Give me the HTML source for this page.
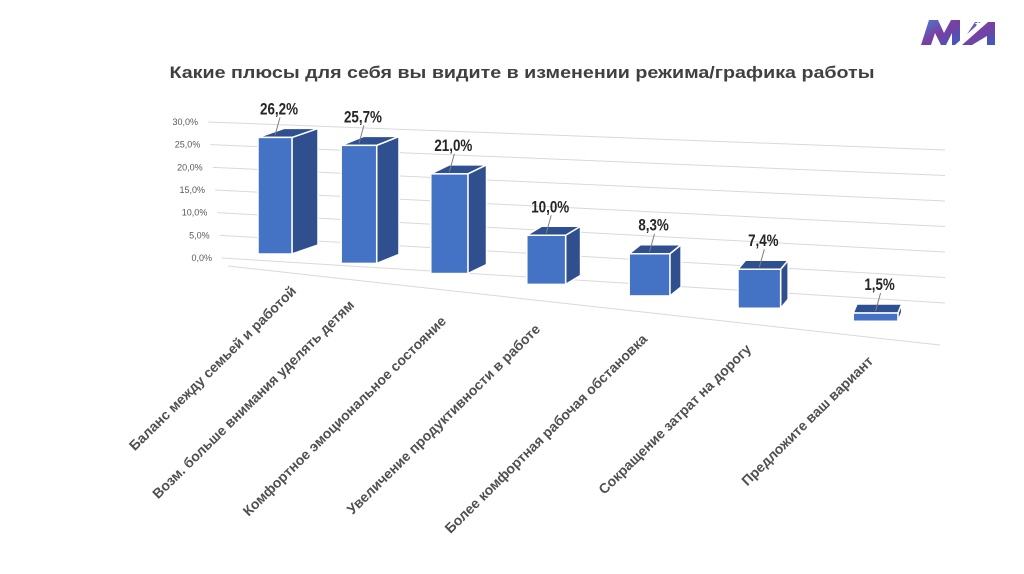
<!DOCTYPE html>
<html><head><meta charset="utf-8">
<style>
body{margin:0;width:1024px;height:574px;background:#fff;overflow:hidden;font-family:"Liberation Sans",sans-serif}
svg{position:absolute;left:0;top:0}
</style></head>
<body>
<svg width="1024" height="574" viewBox="0 0 1024 574">
<defs><linearGradient id="lg" x1="0" y1="0" x2="1" y2="1"><stop offset="0" stop-color="#4a7fd0"/><stop offset="0.5" stop-color="#7a3fa0"/><stop offset="1" stop-color="#3a5cc0"/></linearGradient></defs>
<g>
<polygon points="921,45 929,20 938,20 944,33 951,20 960,20 960,45 952,45 952,33 946,45 941,45 935,33 931,45" fill="url(#lg)"/>
<polygon points="960,45 975,22 995,22 995,45 987,45 987,36 972,45" fill="url(#lg)"/>
<polygon points="955,45 985,18 988,22 962,45" fill="#ffffff"/>
<text x="974" y="27" font-size="9" fill="#fff">★</text>
</g>
<text x="522" y="78" text-anchor="middle" font-size="17" font-weight="bold" fill="#404040" textLength="705" lengthAdjust="spacingAndGlyphs">Какие плюсы для себя вы видите в изменении режима/графика работы</text>
<g id="grid"></g>
<g id="yaxis"></g>
<g id="bars"></g>
<g id="xaxis"></g>
</svg>
<script>
const categories=["Баланс между семьей и работой","Возм. больше внимания уделять детям","Комфортное эмоциональное состояние","Увеличение продуктивности в работе","Более комфортная рабочая обстановка","Сокращение затрат на дорогу","Предложите ваш вариант"];
const values=[26.2,25.7,21.0,10.0,8.3,7.4,1.5];
const valueLabels=["26,2%","25,7%","21,0%","10,0%","8,3%","7,4%","1,5%"];
const yTicks=[0,5,10,15,20,25,30];
const yTickLabels=["0,0%","5,0%","10,0%","15,0%","20,0%","25,0%","30,0%"];
const NS="http://www.w3.org/2000/svg";
function mk(t,a,p){const e=document.createElementNS(NS,t);for(const k in a)e.setAttribute(k,a[k]);p.appendChild(e);return e;}
const grid=document.getElementById('grid'),yaxis=document.getElementById('yaxis'),barsG=document.getElementById('bars'),xaxis=document.getElementById('xaxis');
function wallLeftY(v){return 258-v/30*136;}
function wallRightY(v){return 303-v/30*153;}
function wallLeftX(v){return 222-v/30*14;}
yTicks.forEach((v,i)=>{
  const l=mk('line',{x1:wallLeftX(v),y1:wallLeftY(v),x2:945,y2:wallRightY(v),stroke:'#d9d9d9','stroke-width':1},grid);
  
  
  const t=mk('text',{x:wallLeftX(v)-10,y:wallLeftY(v)+3,'text-anchor':'end','font-size':9,fill:'#595959'},yaxis);
  t.textContent=yTickLabels[i];
  
  
});
const fl=mk('line',{x1:228,y1:266,x2:940,y2:345,stroke:'#d9d9d9','stroke-width':1},grid);


const n=categories.length;
function catX(i){return 258+80*i+3.2*i*i;}
function barW(x){return 34+(x-258)*0.018;}
function floorY(x){return 254+(x-275)*0.112;}
function kScale(x){return 4.45+(x-275)*0.0017;}
function depth(i){return 26-i*3.7;}
values.forEach((v,i)=>{
  const x=catX(i),w=barW(x),bot=floorY(x+w/2),h=v*kScale(x+w/2),top=bot-h,dx=depth(i),dy=9;
  const g=mk('g',{},barsG);
  
  
  mk('polygon',{points:`${x+w},${top} ${x+w+dx},${top-dy} ${x+w+dx},${bot-dy} ${x+w},${bot}`,fill:'#2f4f8f',stroke:'#fff','stroke-width':1.5},g);
  mk('polygon',{points:`${x},${top} ${x+w},${top} ${x+w+dx},${top-dy} ${x+dx},${top-dy}`,fill:'#2e4f90',stroke:'#fff','stroke-width':1.5},g);
  mk('rect',{x:x,y:top,width:w,height:h,fill:'#4472c4',stroke:'#fff','stroke-width':1.5},g);
  const cx=x+w/2+4, ly=top-dy-14;
  mk('line',{x1:cx-4,y1:top-2,x2:cx+1,y2:ly+3,stroke:'#7f7f7f','stroke-width':1},g);
  const lab=valueLabels[i];
  const t=mk('text',{x:cx-lab.length*3.8,y:ly,'font-size':17,'font-weight':'bold',fill:'#262626',textLength:lab.length*7.6,lengthAdjust:'spacingAndGlyphs'},g);
  t.textContent=lab;
  
  
});
const endPts=[[297,282],[355,296],[447,312],[541,320],[648,330],[752,340],[874,352]];
categories.forEach((c,i)=>{
  const [ex,ey]=endPts[i];
  const t=mk('text',{x:0,y:0,'text-anchor':'end','font-size':14,'font-weight':'bold',fill:'#505050',transform:`translate(${ex},${ey+10}) rotate(-44.5)`},xaxis);
  t.textContent=c;
  
  
});
</script>
</body></html>
